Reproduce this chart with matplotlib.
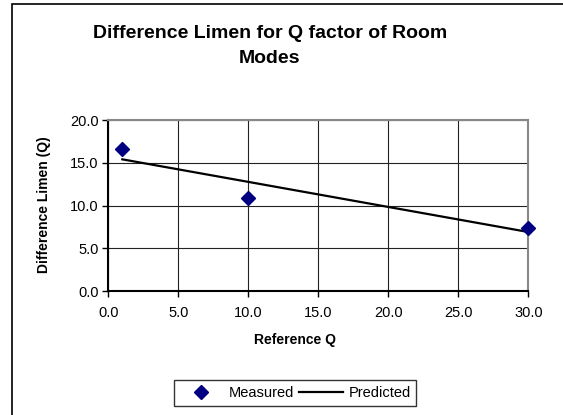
import matplotlib.pyplot as plt
from matplotlib.patches import Rectangle

plt.rcParams['font.family'] = ['Liberation Sans', 'DejaVu Sans']

# data
ref_q = [1, 10, 30]
measured = [16.6, 10.9, 7.4]
pred_q = [1, 30]
predicted = [15.4, 6.9]

W, H = 563, 415
fig = plt.figure(figsize=(W / 100, H / 100), dpi=100)

# outer chart frame (cropped on right/bottom)
fig.patches.append(Rectangle((12 / W, -0.1), 1.2, 1 - 4 / H + 0.1, transform=fig.transFigure,
                             fill=False, edgecolor='black', linewidth=1.2))

ax = fig.add_axes([108.3 / W, 1 - 291 / H, 420 / W, 171 / H])

ax.plot(pred_q, predicted, color='black', linewidth=1.6, label='Predicted', zorder=3)
ax.plot(ref_q, measured, linestyle='none', marker='D', markersize=7.5, color='#000080',
        label='Measured', zorder=4, clip_on=False)

ax.set_xlim(0, 30)
ax.set_ylim(0, 20)
ax.set_xticks([0, 5, 10, 15, 20, 25, 30])
ax.set_yticks([0, 5, 10, 15, 20])
ax.xaxis.set_major_formatter(plt.FormatStrFormatter('%.1f'))
ax.yaxis.set_major_formatter(plt.FormatStrFormatter('%.1f'))
ax.tick_params(labelsize=10.5, direction='out', length=4, width=1, pad=7)
ax.tick_params(axis='y', pad=3)
ax.grid(True, color='#222222', linewidth=0.8)
ax.set_axisbelow(True)

for side in ['top', 'right']:
    ax.spines[side].set_color('#888888')
    ax.spines[side].set_linewidth(1.5)
for side in ['left', 'bottom']:
    ax.spines[side].set_color('black')
    ax.spines[side].set_linewidth(1.5)

fig.text(270 / W, 1 - 46 / H, 'Difference Limen for Q factor of Room\nModes', ha='center',
         va='center', fontsize=14, fontweight='bold', linespacing=1.55)
fig.text(295 / W, 1 - 340 / H, 'Reference Q', ha='center', va='center', fontsize=10,
         fontweight='bold')
fig.text(44 / W, 1 - 205 / H, 'Difference Limen (Q)', ha='center', va='center', fontsize=10,
         fontweight='bold', rotation=90)

handles, labels = ax.get_legend_handles_labels()
leg = fig.legend(handles[::-1], labels[::-1], loc='center', bbox_to_anchor=(295 / W, 1 - 393 / H),
                 ncol=2, fontsize=10.5, frameon=True, fancybox=False, edgecolor='black',
                 handlelength=3, columnspacing=0.3, handletextpad=0.4, borderpad=0.4)
leg.get_frame().set_linewidth(1)
leg.legend_handles[0].set_markersize(7)

fig.savefig('out.png', dpi=100)
